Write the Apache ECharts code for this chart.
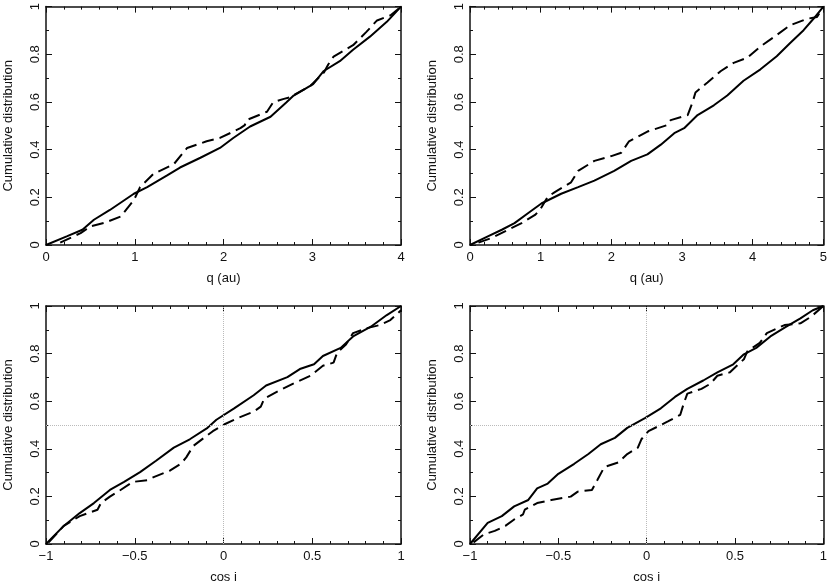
<!DOCTYPE html>
<html>
<head>
<meta charset="utf-8">
<script src="https://cdn.jsdelivr.net/npm/echarts@6/dist/echarts.min.js"></script>
<style>
  html, body { margin: 0; padding: 0; background: #fff; }
  #chart { width: 830px; height: 585px; }
</style>
</head>
<body>
<div id="chart"></div>
<script>
// cumulative distributions, [x, F(x)]
const qSolidA = [[0,0],[0.24,0.037],[0.41,0.064],[0.54,0.106],[0.72,0.147],[0.99,0.215],[1.14,0.243],[1.36,0.291],[1.51,0.325],[1.74,0.366],[1.96,0.407],[2.11,0.449],[2.30,0.497],[2.53,0.538],[2.71,0.599],[2.79,0.627],[3.01,0.675],[3.13,0.730],[3.31,0.771],[3.46,0.819],[3.65,0.874],[3.84,0.936],[4,1]];
const qDashA = [[0.16,0.01],[0.39,0.05],[0.5,0.078],[0.65,0.092],[0.84,0.119],[0.99,0.188],[1.06,0.243],[1.21,0.298],[1.44,0.339],[1.53,0.38],[1.59,0.407],[1.81,0.435],[1.96,0.449],[2.19,0.49],[2.24,0.503],[2.26,0.524],[2.49,0.559],[2.56,0.599],[2.68,0.613],[2.75,0.62],[2.98,0.668],[3.13,0.723],[3.18,0.757],[3.24,0.79],[3.46,0.838],[3.61,0.894],[3.73,0.942],[3.88,0.963],[4,1]];
const qSolidB = [[0,0],[0.26,0.037],[0.45,0.064],[0.63,0.092],[0.82,0.133],[1.01,0.174],[1.29,0.215],[1.53,0.243],[1.76,0.27],[2.04,0.311],[2.28,0.353],[2.51,0.38],[2.7,0.421],[2.89,0.469],[3.03,0.49],[3.22,0.545],[3.45,0.586],[3.64,0.627],[3.87,0.689],[4.11,0.737],[4.34,0.792],[4.53,0.847],[4.72,0.901],[4.86,0.949],[5,1]];
const qDashB = [[0.12,0.01],[0.31,0.03],[0.54,0.064],[0.73,0.092],[0.92,0.126],[0.99,0.147],[1.1,0.202],[1.2,0.222],[1.43,0.263],[1.53,0.311],[1.76,0.353],[2.0,0.373],[2.14,0.387],[2.25,0.435],[2.51,0.476],[2.79,0.503],[2.84,0.524],[3.08,0.545],[3.15,0.6],[3.19,0.64],[3.36,0.682],[3.55,0.73],[3.73,0.764],[3.92,0.785],[4.11,0.833],[4.34,0.881],[4.53,0.922],[4.77,0.949],[4.91,0.956],[5,1]];
const cosSolidA = [[-1,0],[-0.9,0.076],[-0.81,0.13],[-0.73,0.172],[-0.64,0.227],[-0.56,0.261],[-0.47,0.302],[-0.38,0.35],[-0.28,0.405],[-0.19,0.44],[-0.09,0.488],[-0.04,0.522],[0.06,0.57],[0.17,0.625],[0.24,0.666],[0.36,0.701],[0.43,0.735],[0.51,0.755],[0.56,0.79],[0.66,0.824],[0.73,0.872],[0.83,0.913],[0.92,0.962],[1,1]];
const cosDashA = [[-0.985,0.007],[-0.9,0.076],[-0.81,0.117],[-0.71,0.144],[-0.69,0.172],[-0.64,0.199],[-0.58,0.227],[-0.51,0.261],[-0.43,0.268],[-0.39,0.282],[-0.3,0.309],[-0.24,0.337],[-0.21,0.364],[-0.17,0.412],[-0.11,0.446],[-0.06,0.474],[0,0.501],[0.08,0.529],[0.17,0.556],[0.21,0.577],[0.23,0.611],[0.3,0.639],[0.39,0.673],[0.49,0.707],[0.56,0.749],[0.62,0.762],[0.64,0.804],[0.69,0.838],[0.73,0.886],[0.81,0.907],[0.88,0.92],[0.94,0.941],[1,0.982]];
const cosSolidB = [[-1,0],[-0.9,0.089],[-0.82,0.117],[-0.75,0.158],[-0.67,0.185],[-0.62,0.234],[-0.56,0.254],[-0.5,0.295],[-0.41,0.337],[-0.33,0.378],[-0.26,0.419],[-0.18,0.446],[-0.11,0.488],[-0.01,0.529],[0.08,0.57],[0.16,0.618],[0.23,0.652],[0.32,0.687],[0.4,0.721],[0.49,0.755],[0.55,0.797],[0.62,0.824],[0.7,0.872],[0.79,0.913],[0.87,0.948],[0.94,0.982],[1,1]];
const cosDashB = [[-0.98,0.007],[-0.92,0.041],[-0.86,0.055],[-0.8,0.076],[-0.75,0.103],[-0.7,0.124],[-0.69,0.144],[-0.62,0.172],[-0.54,0.185],[-0.43,0.199],[-0.39,0.22],[-0.31,0.227],[-0.28,0.268],[-0.24,0.323],[-0.16,0.343],[-0.11,0.378],[-0.05,0.405],[-0.03,0.44],[0.01,0.474],[0.12,0.515],[0.19,0.543],[0.21,0.591],[0.23,0.632],[0.31,0.652],[0.36,0.673],[0.4,0.707],[0.47,0.721],[0.51,0.749],[0.55,0.776],[0.57,0.81],[0.64,0.845],[0.68,0.886],[0.78,0.92],[0.87,0.927],[0.93,0.955],[1,1]];

const xNames = ["q (au)", "q (au)", "cos i", "cos i"];
const yName = "Cumulative distribution";
const xRanges = [[0, 4], [0, 5], [-1, 1], [-1, 1]];
const xSteps = [1, 1, 0.5, 0.5];

var chart = echarts.init(document.getElementById("chart"));
var font = "Liberation Sans";
var ink = "#111";

var grids = [
  { left: 46, top: 3, width: 355, height: 242 },
  { left: 470, top: 3, width: 355, height: 242 },
  { left: 46, top: 306, width: 355, height: 243 },
  { left: 470, top: 306, width: 355, height: 243 }
];
var curves = [[qSolidA, qDashA], [qSolidB, qDashB], [cosSolidA, cosDashA], [cosSolidB, cosDashB]];

function minus(v) {
  return String(v).replace("-", "\u2212");
}

var xAxis = [], yAxis = [], series = [];
grids.forEach(function (g, i) {
  // frame on all four sides, ticks pointing inwards
  var ticks = {
    axisLine: { show: true, onZero: false, lineStyle: { color: ink, width: 1.5 } },
    axisTick: { show: true, inside: true, length: 6, lineStyle: { color: ink, width: 1 } },
    minorTick: { show: true, length: 3, lineStyle: { color: ink, width: 1 } },
    splitLine: { show: false }
  };
  var xBase = {
    type: "value", gridIndex: i, min: xRanges[i][0], max: xRanges[i][1], interval: xSteps[i]
  };
  var yBase = { type: "value", gridIndex: i, min: 0, max: 1, interval: 0.2 };
  xAxis.push(Object.assign({}, xBase, ticks, {
    position: "bottom",
    minorTick: Object.assign({ splitNumber: 5 }, ticks.minorTick),
    axisLabel: { color: ink, fontFamily: font, fontSize: 13, margin: 6, formatter: minus },
    name: xNames[i], nameLocation: "middle", nameGap: 27,
    nameTextStyle: { color: ink, fontFamily: font, fontSize: 13 }
  }));
  xAxis.push(Object.assign({}, xBase, ticks, {
    position: "top",
    minorTick: Object.assign({ splitNumber: 5 }, ticks.minorTick),
    axisLabel: { show: false }
  }));
  yAxis.push(Object.assign({}, yBase, ticks, {
    position: "left",
    minorTick: Object.assign({ splitNumber: 2 }, ticks.minorTick),
    axisLabel: { color: ink, fontFamily: font, fontSize: 13, rotate: 90, margin: 4 },
    name: yName, nameLocation: "middle", nameGap: 31, nameRotate: 90,
    nameTextStyle: { color: ink, fontFamily: font, fontSize: 13 }
  }));
  yAxis.push(Object.assign({}, yBase, ticks, {
    position: "right",
    minorTick: Object.assign({ splitNumber: 2 }, ticks.minorTick),
    axisLabel: { show: false }
  }));

  var solid = {
    type: "line", xAxisIndex: 2 * i, yAxisIndex: 2 * i,
    data: curves[i][0], showSymbol: false, symbol: "none",
    lineStyle: { color: "#000", width: 2 }, z: 3
  };
  if (i >= 2) {
    solid.markLine = {
      silent: true, symbol: ["none", "none"], label: { show: false },
      lineStyle: { color: "#bbb", type: "dotted", width: 1 },
      data: [{ xAxis: 0 }, { yAxis: 0.5 }]
    };
  }
  series.push(solid);
  series.push({
    type: "line", xAxisIndex: 2 * i, yAxisIndex: 2 * i,
    data: curves[i][1], showSymbol: false, symbol: "none",
    lineStyle: { color: "#000", width: 2, type: [12, 6] }, z: 3
  });
});

chart.setOption({
  animation: false,
  backgroundColor: "#fff",
  grid: grids,
  xAxis: xAxis,
  yAxis: yAxis,
  series: series
});
</script>
</body>
</html>
